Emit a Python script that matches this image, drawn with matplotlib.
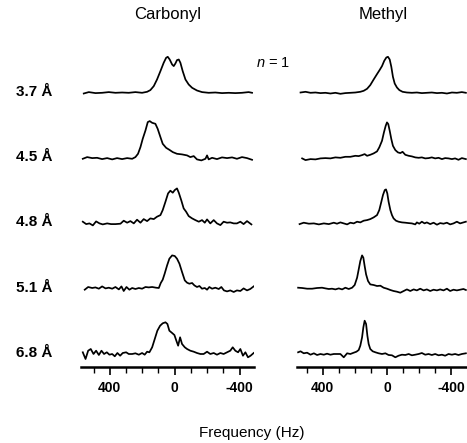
import matplotlib
matplotlib.use("Agg")
import matplotlib.pyplot as plt
import matplotlib.transforms as mtransforms
from matplotlib.ticker import FixedLocator, MultipleLocator

plt.rcParams['font.family'] = ['Liberation Sans', 'DejaVu Sans']
plt.rcParams['mathtext.fontset'] = 'custom'
plt.rcParams['mathtext.it'] = 'Liberation Sans:italic'

# row labels (distance), top to bottom
DISTANCES = ["3.7 Å", "4.5 Å", "4.8 Å", "5.1 Å", "6.8 Å"]
PANEL_TITLES = ["Carbonyl", "Methyl"]
MAJOR_TICKS = [400, 0, -400]
TICK_LABELS = ["400", "0", "-400"]

# ---- Carbonyl spectra (frequency in Hz, intensity in arbitrary units) ----
co_37_hz = [560, 529, 488, 447, 406, 365, 324, 283, 242, 201, 170, 150, 129, 109, 88, 68,
            53, 43, 31, 16, 6, -4, -14, -25, -35, -49, -66, -86, -107, -137, -168, -209,
            -250, -291, -332, -373, -414, -455, -476]
co_37_int = [-0.7, 0.7, -0.3, 0, 0.7, 0, 0.3, 0, 0.7, 0, 1, 2.7, 6.7, 13.3, 21.7, 30,
             35, 36, 33.3, 28.3, 26.7, 29.3, 32.7, 33.3, 30, 21.7, 13.3, 8.3, 5, 2.3, 0.7, 0,
             0.3, -0.3, 0, -0.3, 0, 0.7, 0]

co_45_hz = [566, 539, 508, 478, 447, 416, 385, 355, 324, 293, 262, 242, 226, 211, 197, 180,
            166, 154, 139, 119, 105, 88, 74, 53, 33, 12, -14, -45, -76, -96, -117, -137,
            -164, -189, -199, -209, -230, -260, -291, -322, -353, -383, -414, -445, -476]
co_45_int = [-0.7, 1, 0, 0.3, -1, 0, -1.3, 0, -1, 0, -0.7, 1, 4.3, 11, 19.3, 27.7,
             36, 37, 35.3, 34.3, 29.3, 21, 14.3, 10.3, 8.3, 6, 4.3, 3.7, 2.7, 1, 2, -1.3,
             -2.3, -0.7, 2.7, -1.3, 0.3, -1, 0.7, 0, 0.7, -0.7, 1, 0, -1.7]

co_48_hz = [566, 545, 525, 504, 484, 463, 443, 416, 392, 365, 334, 314, 293, 273, 252, 232,
            211, 191, 170, 150, 129, 109, 88, 74, 57, 41, 27, 12, 0, -14, -25, -41,
            -55, -70, -86, -107, -127, -148, -168, -185, -199, -219, -240, -260, -281, -301,
            -322, -342, -363, -383, -404, -424, -445, -472]
co_48_int = [1.7, -0.7, 0, -2, 2, 0, -1, 0, -0.7, -0.7, -0.3, 2.7, 0.7, 2.3, 0, 3.7,
             0.7, 4.3, 2.3, 5, 4.3, 6.7, 8.3, 13.3, 21.7, 30, 32.7, 30.7, 33.3, 35, 30.7, 22.7,
             15, 11.7, 7.3, 5, 3.3, 1.7, 3.3, 0.7, 4, 0, 3.3, 0, -1.7, 1.7,
             0.7, 1, 0, 0, 1.7, -0.7, 2.3, -1]

co_51_hz = [554, 533, 508, 488, 467, 447, 426, 406, 385, 365, 344, 328, 314, 297, 279, 262,
            242, 221, 201, 180, 160, 139, 115, 98, 86, 74, 62, 47, 33, 16, 0, -14,
            -29, -45, -62, -76, -90, -107, -121, -137, -152, -168, -185, -199, -213, -230,
            -250, -271, -287, -303, -322, -342, -363, -383, -404, -424, -445, -465, -486]
co_51_int = [-1, 1.7, 0.7, 1.3, 0, 2.3, 0.3, 1, 0, 1.7, -0.7, 2.3, -2.3, 1.7, -1, 0.7,
             -0.3, 0.7, 0, 1.7, 1.3, 1.7, 1, 0.7, 5.7, 9, 15, 23.3, 30, 33.3, 32.7, 30,
             25, 16.7, 8.3, 6, 5, 5.7, 3.3, 1.7, 2.7, 0, 0.7, -1, 1.7, 0,
             1, -0.3, 1.7, -1.7, -2.7, -1.7, -3.3, -1.7, -2.3, 0.3, -1.7, -0.3, 2.3]

co_68_hz = [566, 549, 533, 517, 500, 484, 467, 451, 435, 418, 402, 385, 369, 353, 336, 320,
            299, 283, 262, 242, 221, 201, 185, 170, 156, 139, 123, 107, 90, 74, 57, 45,
            33, 16, 2, -10, -21, -33, -45, -62, -76, -96, -117, -137, -158, -178, -199,
            -219, -240, -260, -281, -301, -322, -342, -357, -373, -390, -404, -420, -435,
            -451, -467, -486]
co_68_int = [1.7, -5, 3.3, 5, 0, 3.3, -1, 3.3, 0, 1.7, -0.7, 0, -2.3, 1, -1.7, 1,
             1.7, 0, 0, 0.7, -0.7, 1, -0.7, 2.3, 1.7, 6.7, 15, 23.3, 28.3, 30.7, 31.7, 30,
             23.3, 21, 19, 13.3, 8.3, 16.7, 10, 6.7, 5, 3.3, 2.3, 1, 0, 0, 2.3,
             0, 1, -0.7, 1, 0, 1.7, 3.3, 6.7, 3.3, 1.7, 5, -1.7, 1.7,
             -3.3, -1.7, 1]

# ---- Methyl spectra ----
me_37_hz = [538, 507, 476, 445, 414, 383, 352, 321, 290, 259, 228, 197, 166, 145, 124, 104,
            83, 62, 46, 31, 17, 4, -6, -17, -27, -37, -48, -62, -77, -97, -124, -155,
            -186, -217, -248, -279, -311, -342, -373, -404, -435, -466, -491]
me_37_int = [0.3, 1, 0, 0.3, -0.3, 0, -0.7, 0, -1, -0.3, 0, 0.3, 1, 2, 4, 7.7,
             13.3, 18.7, 22.7, 26.7, 32, 35.3, 36, 33.3, 26, 16, 9.3, 5.3, 2.7, 1, 0.3, 0,
             0.3, -0.3, 0, 0.3, -0.3, 0, -0.7, 0.3, 0, 0.7, 0]

me_45_hz = [528, 507, 476, 445, 414, 383, 352, 321, 290, 259, 228, 197, 176, 155, 139, 124,
            104, 83, 62, 48, 31, 19, 8, 0, -8, -17, -27, -37, -52, -68, -83, -97,
            -114, -135, -155, -176, -197, -217, -238, -259, -279, -300, -321, -342, -362,
            -383, -404, -424, -445, -466, -491]
me_45_int = [-0.3, -2, -1, -1.3, -0.3, 0, -0.3, 0.7, 0.3, 1.3, 1.3, 2.3, 2, 3, 4, 2.3,
             3.3, 4.7, 6.7, 10.7, 17.3, 25.7, 32.3, 35.7, 34, 27.3, 19, 12.3, 8, 5.7, 5, 6.3,
             3.3, 2.3, 1.7, 0.7, 0.3, 0.7, -0.3, 0, 0.7, -0.3, 0.3, -1, 0,
             -0.3, -1, -0.3, -1.7, 0, -1]

me_48_hz = [544, 518, 486, 455, 424, 393, 362, 331, 311, 290, 269, 248, 228, 207, 186, 166,
            145, 124, 104, 83, 62, 48, 35, 25, 14, 6, -2, -10, -21, -31, -41, -56,
            -72, -93, -114, -135, -155, -176, -186, -201, -217, -234, -248, -269, -290,
            -311, -331, -352, -373, -393, -414, -435, -455, -476, -491]
me_48_int = [-0.7, 0.7, -0.3, 0, -1, 0, -0.7, 0.7, -0.3, 1, 0, -1, 0.7, 0, 1.7, 1,
             2.7, 3.3, 4.3, 6, 8.3, 13.3, 21.7, 28.3, 33.3, 34, 30, 21.7, 13.3, 8.3, 5, 2.7,
             1.7, 1, 0.7, 0.3, 0, -1, 1, -0.3, 1.7, 0, 1, -0.7, 0.7,
             -1.3, 0.3, -0.3, 0.7, -1, 0, 1.7, 0, 1, 1.7]

me_51_hz = [553, 528, 497, 466, 435, 404, 383, 362, 342, 321, 300, 279, 259, 238, 217, 201,
            186, 176, 166, 155, 147, 139, 130, 118, 104, 83, 62, 41, 21, 0, -21, -41,
            -62, -83, -104, -124, -145, -166, -186, -207, -228, -248, -269, -290, -311,
            -331, -352, -373, -393, -414, -435, -455, -476, -491]
me_51_int = [1, 0.7, 0, 0, 0.7, 1, 0.3, -0.3, 0, -0.7, 0.3, -0.7, 1, -0.3, 1, 3.7,
             11, 19.3, 27.7, 33.3, 31, 22.7, 14.3, 7.7, 4.3, 3.7, 2.7, 3, 1, 0, -1.3, -2.3,
             -3, -4, -2.3, -0.7, -2.3, -0.7, -1.7, 0, -1.7, -0.7, -2.3, -1, -1.7,
             -0.7, -1.7, 0, -2.3, -1, -1.7, -1, -0.3, -1.3]

me_68_hz = [553, 538, 518, 497, 476, 455, 435, 414, 393, 373, 352, 331, 311, 290, 269, 248,
            228, 207, 190, 176, 166, 155, 147, 139, 130, 122, 114, 104, 89, 72, 52, 31,
            10, -10, -31, -52, -72, -93, -114, -135, -155, -176, -197, -217, -238, -259,
            -279, -300, -321, -342, -362, -383, -404, -424, -445, -466, -491]
me_68_int = [1.7, 2.7, 0.7, 1.3, -0.7, 0.7, -1, 0, -0.7, 0.3, -0.7, 0, 0, 0, -3.3, 0.7,
             0, 1.3, 2.3, 4, 8.3, 16.7, 26.7, 33.3, 30, 18.3, 10, 5, 2.7, 1.7, 0.7, 0,
             0.7, -1, -1.3, -3.3, -1.7, -0.7, -1, 0, -1.3, -0.7, 0, 1, -0.7, 0,
             -1, 0, -1.3, -0.7, -1.7, 0, -0.7, 0, -1, 0, 0.7]

carbonyl = [(co_37_hz, co_37_int), (co_45_hz, co_45_int), (co_48_hz, co_48_int),
            (co_51_hz, co_51_int), (co_68_hz, co_68_int)]
methyl = [(me_37_hz, me_37_int), (me_45_hz, me_45_int), (me_48_hz, me_48_int),
          (me_51_hz, me_51_int), (me_68_hz, me_68_int)]

W, H = 467, 443
fig = plt.figure(figsize=(W / 100, H / 100), dpi=100)

# vertical stacking of traces (data units == pixels)
ROW_BASE = 13
ROW_STEP = 65.3
offsets = [ROW_BASE + ROW_STEP * (len(DISTANCES) - 1 - i) for i in range(len(DISTANCES))]

ax_co = fig.add_axes([81 / W, (H - 367) / H, 173 / W, 327 / H])
ax_me = fig.add_axes([297 / W, (H - 367) / H, 170 / W, 327 / H])

for ax, traces, xlim in [(ax_co, carbonyl, (577, -488)), (ax_me, methyl, (560, -498))]:
    for (hz, inten), off in zip(traces, offsets):
        ax.plot(hz, [v + off for v in inten], color="black", lw=1.25)
    ax.set_xlim(*xlim)
    ax.set_ylim(0, 327)
    for side in ["left", "right", "top"]:
        ax.spines[side].set_visible(False)
    ax.spines["bottom"].set_linewidth(1.8)
    ax.set_yticks([])
    ax.xaxis.set_major_locator(FixedLocator(MAJOR_TICKS))
    ax.set_xticklabels(TICK_LABELS, fontsize=10, fontweight="bold")
    ax.xaxis.set_minor_locator(MultipleLocator(100))
    ax.tick_params(axis="x", which="major", length=6, width=1.2, pad=4)
    ax.tick_params(axis="x", which="minor", length=4, width=1.0)
    ax.patch.set_visible(False)

fig.text(168 / W, 1 - 15 / H, PANEL_TITLES[0], ha="center", va="center", fontsize=12)
fig.text(383 / W, 1 - 15 / H, PANEL_TITLES[1], ha="center", va="center", fontsize=12)
fig.text(273 / W, 1 - 63 / H, r"$n$ = 1", ha="center", va="center", fontsize=10.5)

trans = mtransforms.blended_transform_factory(fig.transFigure, ax_co.transData)
for label, off in zip(DISTANCES, offsets):
    fig.text(16 / W, off + 1, label, transform=trans, ha="left", va="center",
             fontsize=11, fontweight="bold")

fig.text(252 / W, 1 - 433 / H, "Frequency (Hz)", ha="center", va="center", fontsize=11)

fig.savefig("out.png", dpi=100)
